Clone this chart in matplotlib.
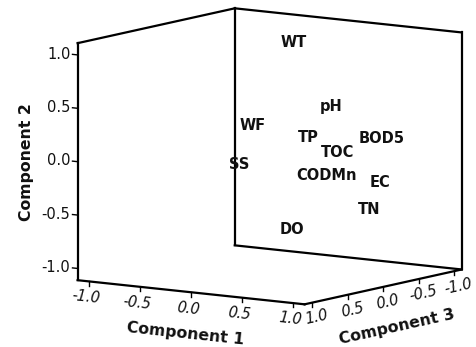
import math
import matplotlib
matplotlib.use("Agg")
import matplotlib.pyplot as plt
from mpl_toolkits.mplot3d import proj3d

variables = ["WT", "pH", "WF", "TP", "TOC", "BOD5", "SS", "CODMn", "EC", "TN", "DO"]
comp1 = [-0.11, 0.74, 0.04, 0.59, 0.80, 0.89, 0.12, 0.76, 0.94, 0.83, 0.49]
comp2 = [0.98, 0.57, 0.34, 0.28, 0.15, 0.21, 0.02, -0.06, -0.18, -0.44, -0.58]
comp3 = [-0.50, 0.20, 0.30, 0.30, 0.20, -0.30, 0.60, 0.30, -0.20, -0.20, 0.40]
ticks = [-1.0, -0.5, 0.0, 0.5, 1.0]
tick_labels = ["-1.0", "-0.5", "0.0", "0.5", "1.0"]

E = 1.11  # half-extent of the cube
INK = "#111111"

fig = plt.figure(figsize=(4.76, 3.47), dpi=100)
ax = fig.add_axes([0.1922, 0.036, 0.729, 1.0], projection="3d", proj_type="ortho")
ax.view_init(elev=8.83, azim=34.7)
ax.set_box_aspect((1.151, 1.151, 1.0), zoom=1.282)
ax.set_xlim(-E, E)
ax.set_ylim(-E, E)
ax.set_zlim(-E, E)
ax.set_axis_off()
M = ax.get_proj()


def label3d(x, y, z, s, along=None, **kw):
    """Place a 2D text at the projection of (x, y, z); optionally align it
    with the projected direction of a 3D vector."""
    px, py, _ = proj3d.proj_transform(x, y, z, M)
    rot = 0.0
    if along is not None:
        qx, qy, _ = proj3d.proj_transform(x + along[0], y + along[1], z + along[2], M)
        rot = math.degrees(math.atan2(qy - py, qx - px))
        if rot > 90:
            rot -= 180
        elif rot <= -90:
            rot += 180
    return ax.text2D(px, py, s, transform=ax.transData, rotation=rot,
                     transform_rotates_text=True, clip_on=False, **kw)


# x = component 3, y = component 1, z = component 2
edges = [
    ((E, E), (-E, E), (-E, -E)),
    ((E, -E), (E, E), (-E, -E)),
    ((E, E), (-E, -E), (-E, -E)),
    ((-E, -E), (-E, E), (-E, -E)),
    ((E, E), (-E, -E), (-E, E)),
    ((-E, -E), (-E, -E), (-E, E)),
    ((-E, -E), (E, E), (-E, E)),
    ((E, -E), (-E, -E), (E, E)),
    ((-E, -E), (-E, E), (E, E)),
]
for xs, ys, zs in edges:
    ax.plot(xs, ys, zs, color="black", lw=1.6, solid_capstyle="projecting",
            clip_on=False)

tick_font = dict(fontsize=10.5, color=INK)

# Component 2 (vertical) ticks on the front-left edge
for v, lab in zip(ticks, tick_labels):
    ax.plot([E, E], [-E, -E - 0.05], [v, v], color="black", lw=1.0, clip_on=False)
    label3d(E, -E - 0.07, v, lab, ha="right", va="center", **tick_font)

# Component 1 ticks along the front bottom edge
for v, lab in zip(ticks, tick_labels):
    ax.plot([E, E], [v, v], [-E, -E - 0.04], color="black", lw=1.0, clip_on=False)
    label3d(E + 0.04, v, -E - 0.145, lab, along=(0, 1, 0), ha="center",
            va="center", style="italic", **tick_font)

# Component 3 ticks along the right bottom edge
for v, lab in zip(ticks, tick_labels):
    ax.plot([v, v], [E, E], [-E, -E - 0.04], color="black", lw=1.0, clip_on=False)
    label3d(v, E + 0.045, -E - 0.135, lab, along=(1, 0, 0), ha="center",
            va="center", style="italic", **tick_font)

title_font = dict(fontsize=11.3, fontweight="bold", color=INK, ha="center",
                  va="center")
label3d(E, -E - 0.5, -0.05, "Component 2", along=(0, 0, 1), **title_font)
label3d(E + 0.08, 0.0, -E - 0.375, "Component 1", along=(0, 1, 0), **title_font)
label3d(-0.19, E, -E - 0.40, "Component 3", along=(1, 0, 0), **title_font)

# variable labels at their loadings
for name, c1, c2, c3 in zip(variables, comp1, comp2, comp3):
    label3d(c3, c1, c2, name, ha="center", va="center", fontsize=10.5,
            fontweight="bold", color=INK)

fig.savefig("out.png", dpi=100)
